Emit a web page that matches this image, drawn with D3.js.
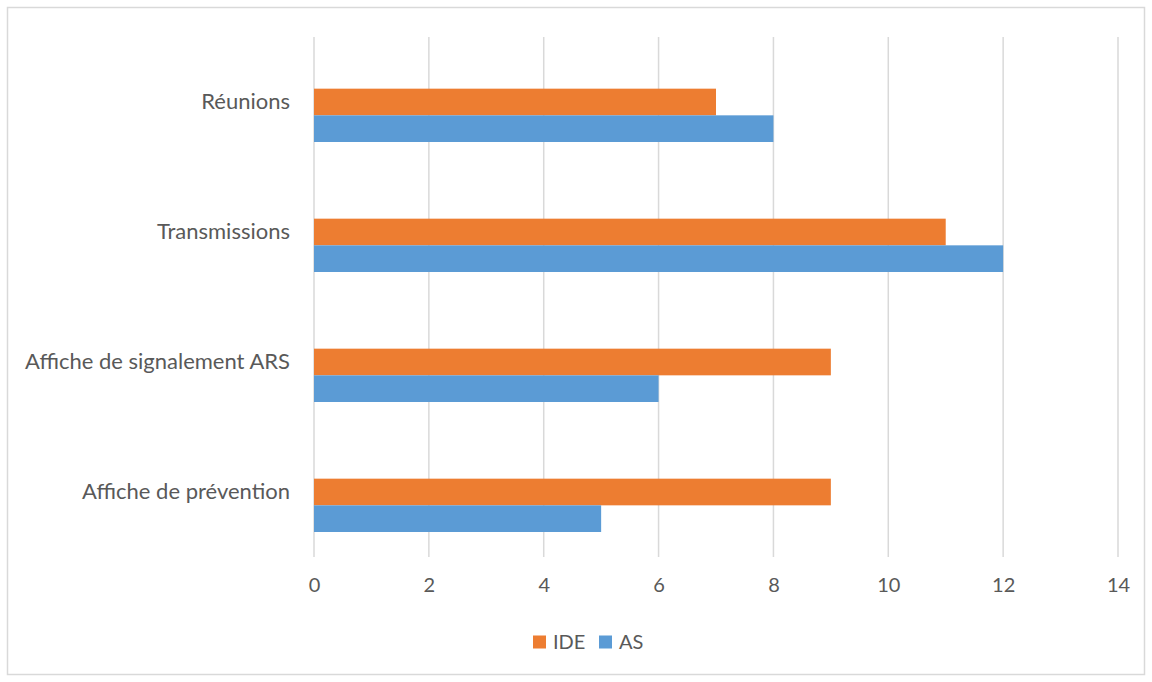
<!DOCTYPE html>
<html>
<head>
<meta charset="utf-8">
<script src="https://cdn.jsdelivr.net/npm/d3@7"></script>
<style>
  html, body { margin: 0; padding: 0; background: #ffffff; }
  svg { display: block; font-family: Lato, "Open Sans", sans-serif; }
</style>
</head>
<body>
<svg id="chart" width="1152" height="682"></svg>
<script>
// Categories listed top to bottom
const categories = ["Réunions", "Transmissions", "Affiche de signalement ARS", "Affiche de prévention"];
const seriesNames = ["IDE", "AS"];
const ideValues = [7, 11, 9, 9];
const asValues = [8, 12, 6, 5];
const xTicks = [0, 2, 4, 6, 8, 10, 12, 14];
const colors = { IDE: "#ED7D31", AS: "#5B9BD5" };

const svg = d3.select("#chart");
const W = 1152, H = 682;
const plot = { left: 314, right: 1118, top: 37, bottom: 557 };

// Outer chart frame
svg.append("rect")
  .attr("x", 7.5).attr("y", 7.5)
  .attr("width", W - 15).attr("height", H - 15)
  .attr("fill", "#fff").attr("stroke", "#D9D9D9").attr("stroke-width", 1.5);

const x = d3.scaleLinear().domain([0, 14]).range([plot.left, plot.right]);
const y = d3.scaleBand().domain(categories).range([plot.top, plot.bottom]).paddingInner(0).paddingOuter(0);
// Three slots per category; the series occupy the lower two
const slot = d3.scaleBand().domain([0, 1, 2]).range([25, y.bandwidth() - 25]);

// Vertical gridlines
svg.append("g").selectAll("line").data(xTicks).join("line")
  .attr("x1", d => x(d)).attr("x2", d => x(d))
  .attr("y1", plot.top).attr("y2", plot.bottom)
  .attr("stroke", "#D9D9D9").attr("stroke-width", 1.5);

// X axis tick labels
const xAxis = d3.axisBottom(x).tickValues(xTicks).tickSize(0).tickPadding(0).tickFormat(d3.format("d"));
const gx = svg.append("g").attr("transform", `translate(0,${plot.bottom + 21})`).call(xAxis);
gx.select(".domain").remove();
gx.selectAll("text").attr("fill", "#595959").attr("font-size", 20)
  .attr("font-family", "Lato, 'Open Sans', sans-serif").attr("dy", "0.71em");

// Category labels
const yAxis = d3.axisLeft(y).tickSize(0).tickPadding(24);
const gy = svg.append("g").attr("transform", `translate(${plot.left},0)`).call(yAxis);
gy.select(".domain").remove();
gy.selectAll("text").attr("fill", "#595959").attr("font-size", 22)
  .attr("font-family", "Lato, 'Open Sans', sans-serif");

// Bars
const rows = categories.map((c, i) => ({ cat: c, IDE: ideValues[i], AS: asValues[i] }));
seriesNames.forEach((s, si) => {
  svg.append("g").selectAll("rect").data(rows).join("rect")
    .attr("x", x(0))
    .attr("y", d => y(d.cat) + slot(si + 1))
    .attr("width", d => x(d[s]) - x(0))
    .attr("height", slot.bandwidth())
    .attr("fill", colors[s]);
});

// Legend
const legend = svg.append("g").attr("transform", "translate(533,642)");
const legendItems = [{ name: "IDE", dx: 0 }, { name: "AS", dx: 66 }];
legendItems.forEach(it => {
  const g = legend.append("g").attr("transform", `translate(${it.dx},0)`);
  g.append("rect").attr("x", 0).attr("y", -6.5).attr("width", 13).attr("height", 13).attr("fill", colors[it.name]);
  g.append("text").attr("x", 20).attr("y", 0).attr("dy", "0.35em")
    .attr("fill", "#595959").attr("font-size", 20).text(it.name);
});
</script>
</body>
</html>
